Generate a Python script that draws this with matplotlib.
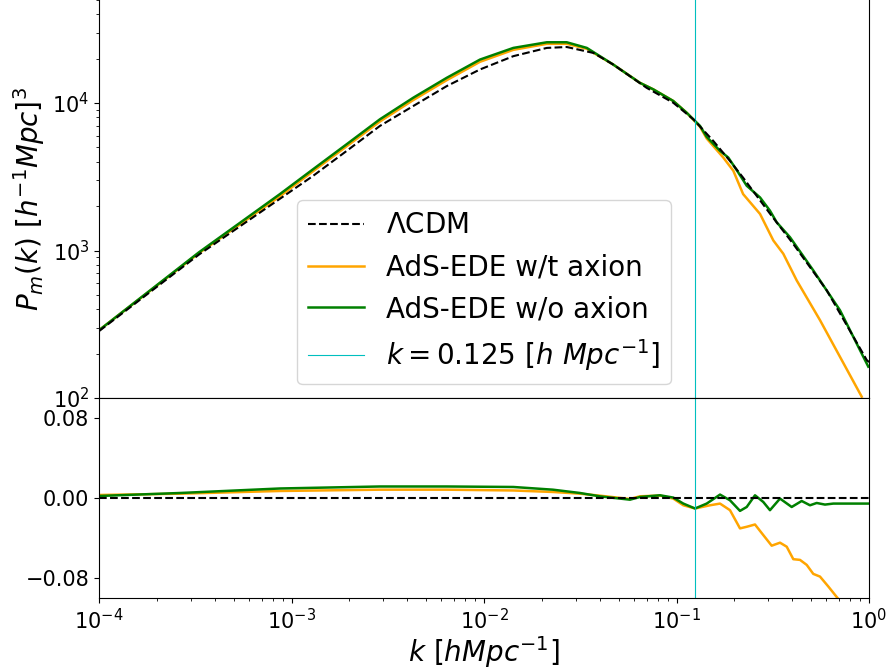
import matplotlib
matplotlib.use('Agg')
import matplotlib.pyplot as plt

# --- matter power spectrum P_m(k) ---
k_lcdm = [1e-4, 3.31e-4, 8.71e-4, 1.297e-3, 1.935e-3, 2.88e-3, 4.29e-3, 6.40e-3, 9.53e-3,
          1.42e-2, 2.12e-2, 2.69e-2, 3.70e-2, 4.69e-2, 0.0700, 0.0962, 0.1223, 0.1553,
          0.1896, 0.2216, 0.3059, 0.4029, 0.6032, 0.973, 1.0]
p_lcdm = [284, 940, 2245, 3215, 4740, 7000, 9550, 13030, 16900,
          20800, 23660, 24000, 21880, 18250, 12680, 10050, 7765, 5535,
          4050, 3125, 1778, 1114, 537, 181, 175]

k_axion = [1e-4, 3.31e-4, 8.71e-4, 1.297e-3, 1.935e-3, 2.88e-3, 4.29e-3, 6.40e-3, 9.53e-3,
           1.42e-2, 2.12e-2, 2.69e-2, 3.42e-2, 4.69e-2, 0.0646, 0.0758, 0.0962, 0.1130,
           0.1325, 0.1435, 0.1750, 0.1973, 0.2218, 0.2716, 0.3184, 0.3587, 0.4211,
           0.5565, 0.9165]
p_axion = [288, 961, 2333, 3456, 5092, 7500, 10480, 14290, 19050,
           22960, 25220, 25220, 23330, 18250, 13710, 12380, 10330, 8590,
           6900, 5750, 4270, 3475, 2415, 1770, 1170, 951, 627,
           337, 102]

k_noaxion = [1e-4, 3.31e-4, 8.71e-4, 1.297e-3, 1.935e-3, 2.88e-3, 4.29e-3, 6.40e-3, 9.53e-3,
             1.42e-2, 2.12e-2, 2.69e-2, 3.42e-2, 4.69e-2, 0.0646, 0.0758, 0.0962, 0.1130,
             0.1325, 0.1435, 0.1683, 0.1858, 0.2094, 0.2316, 0.2716, 0.3059, 0.3316,
             0.3887, 0.5135, 0.7070, 0.9917]
p_noaxion = [288, 974, 2415, 3565, 5260, 7765, 10870, 14830, 19720,
             23660, 25840, 25840, 23660, 18250, 13710, 12380, 10330, 8590,
             7000, 5900, 4740, 4270, 3380, 2750, 2290, 1862, 1553,
             1230, 733, 393, 163]

# --- relative difference w.r.t. LCDM (bottom panel) ---
k_res = [1e-4, 2.64e-4, 8.71e-4, 2.88e-3, 6.40e-3, 1.42e-2, 2.28e-2, 3.15e-2, 4.01e-2,
         5.73e-2, 6.46e-2, 0.0821, 0.0962, 0.1085, 0.1248, 0.1435, 0.1683, 0.1896,
         0.2137, 0.2316, 0.2557, 0.2824, 0.3059, 0.3449, 0.3966, 0.4470, 0.4938,
         0.5349, 0.5907, 0.6525, 1.0]
res_noaxion = [0.002, 0.005, 0.0095, 0.0115, 0.0115, 0.011, 0.0083, 0.005, 0.0016,
               -0.0017, 0.001, 0.0027, 0.0004, -0.0056, -0.0105, -0.0056, 0.0034, -0.0023,
               -0.0129, -0.009, 0.0027, -0.004, -0.0122, -0.0006, -0.009, -0.003, -0.0073,
               -0.005, -0.0066, -0.0056, -0.0056]

k_res_axion = [1e-4, 2.64e-4, 8.71e-4, 2.88e-3, 6.40e-3, 1.42e-2, 2.28e-2, 3.15e-2, 4.01e-2,
               5.73e-2, 6.46e-2, 0.0821, 0.0962, 0.1085, 0.1248, 0.1493, 0.1683, 0.1896,
               0.2137, 0.2316, 0.2557, 0.2824, 0.3122, 0.3449, 0.3737, 0.4044, 0.4381,
               0.4747, 0.5135, 0.5565, 0.6146, 0.6796, 0.7070]
res_axion = [0.003, 0.0043, 0.007, 0.0083, 0.0083, 0.0075, 0.006, 0.0043, 0.0023,
             -0.001, 0.0017, 0.0024, -0.0006, -0.0073, -0.0105, -0.0073, -0.0056, -0.0122,
             -0.0304, -0.0288, -0.0265, -0.0371, -0.0477, -0.0447, -0.0487, -0.0612, -0.0619,
             -0.0669, -0.0759, -0.0786, -0.0885, -0.099, -0.103]

k_pivot = 0.125

fig = plt.figure(figsize=(8.89, 6.71), dpi=100)
ax1 = fig.add_axes([0.1114, 0.4069, 0.8661, 0.5931])
ax2 = fig.add_axes([0.1114, 0.1088, 0.8661, 0.2981])

# top panel
ax1.loglog(k_lcdm, p_lcdm, 'k--', lw=1.5, label=r'$\Lambda$CDM', zorder=3)
ax1.loglog(k_axion, p_axion, color='orange', lw=1.8, label='AdS-EDE w/t axion')
ax1.loglog(k_noaxion, p_noaxion, color='green', lw=1.8, label='AdS-EDE w/o axion')
ax1.axvline(k_pivot, color='c', lw=0.8, label=r'$k = 0.125\ [h\ Mpc^{-1}]$')
ax1.set_xlim(1e-4, 1)
ax1.set_ylim(1e2, 5e4)
ax1.tick_params(axis='x', which='both', bottom=False, labelbottom=False)
ax1.spines['top'].set_visible(False)
ax1.set_ylabel(r'$P_m(k)\ [h^{-1}Mpc]^3$', fontsize=20)
ax1.tick_params(axis='y', labelsize=15)
ax1.legend(loc='lower center', fontsize=20)

# bottom panel
ax2.semilogx(k_res_axion, res_axion, color='orange', lw=1.8)
ax2.semilogx(k_res, res_noaxion, color='green', lw=1.8)
ax2.axhline(0, color='k', ls='--', lw=1.5)
ax2.axvline(k_pivot, color='c', lw=0.8)
ax2.set_xlim(1e-4, 1)
ax2.set_ylim(-0.1, 0.1)
ax2.set_yticks([-0.08, 0.0, 0.08])
ax2.tick_params(labelsize=15)
ax2.set_xlabel(r'$k\ [hMpc^{-1}]$', fontsize=20, labelpad=1)

fig.savefig('out.png', dpi=100)
